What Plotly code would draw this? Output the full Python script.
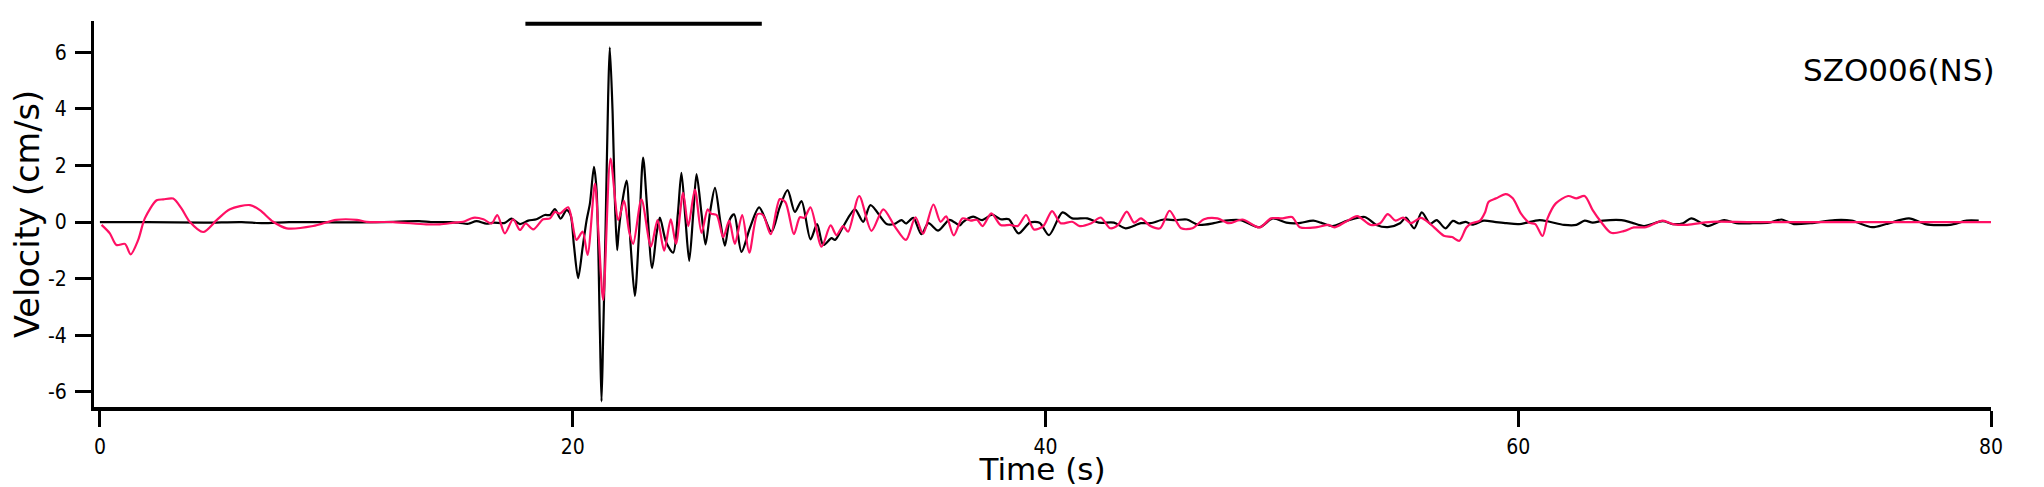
import plotly.graph_objects as go

# ---- data ----
black_t = [0.0, 2.0, 4.4, 6.0, 6.9, 8.0, 10.0, 12.0, 13.5, 14.0, 14.38, 14.81, 15.23, 15.58, 15.93, 16.36, 16.64,
           17.13, 17.41, 17.77, 18.12, 18.47, 18.82, 19.04, 19.25, 19.49, 19.74, 19.91, 20.05, 20.23, 20.42,
           20.59, 20.73, 20.9, 21.01, 21.15, 21.22, 21.29, 21.39, 21.5, 21.57, 21.69, 21.78, 21.88, 21.95,
           22.11, 22.28, 22.45, 22.63, 22.8, 22.98, 23.15, 23.36, 23.55, 23.69, 23.95, 24.25, 24.45, 24.6,
           24.77, 24.93, 25.1, 25.24, 25.45, 25.62, 25.82, 26.02, 26.25, 26.44, 26.65, 26.83, 27.14, 27.5,
           27.89, 28.41, 28.75, 29.09, 29.4, 29.68, 30.06, 30.34, 30.6, 30.95, 31.1, 31.44, 31.94, 32.29,
           32.6, 33.28, 33.6, 33.91, 34.1, 34.41, 34.75, 35.05, 35.46, 35.94, 36.38, 36.51, 36.94, 37.32,
           37.75, 38.1, 38.45, 38.86, 39.34, 39.75, 40.15, 40.72, 41.13, 41.77, 42.26, 42.9, 43.39, 44.04,
           44.44, 45.01, 45.5, 45.98, 46.47, 47.12, 47.6, 48.25, 49.06, 49.62, 50.19, 50.68, 51.33, 51.65,
           52.14, 52.78, 53.51, 54.0, 54.48, 55.0, 55.25, 55.6, 55.92, 56.28, 56.55, 56.92, 57.24, 57.5,
           57.78, 58.05, 58.54, 58.99, 59.5, 60.03, 60.9, 61.33, 61.94, 62.46, 62.81, 63.15, 63.59, 64.37,
           64.8, 65.32, 66.11, 66.54, 66.97, 67.32, 67.76, 68.02, 68.71, 69.23, 69.93, 70.62, 71.14, 71.66,
           72.36, 73.4, 74.1, 74.97, 75.57, 76.53, 77.22, 78.27, 78.96, 79.48]
black_v = [0.0, 0.0, -0.02, 0.0, -0.04, 0.0, -0.01, 0.0, 0.03, 0.0, 0.0, 0.0, -0.03, -0.06, 0.03, -0.06, -0.02,
           -0.03, 0.12, -0.07, 0.05, 0.1, 0.25, 0.25, 0.46, 0.12, 0.42, 0.25, -0.8, -1.98, -0.9,
           0.07, 0.66, 1.95, 1.13, -3.8, -6.33, -4.0, -0.28, 4.4, 6.17, 3.84, 0.9, -0.99, -0.3,
           0.77, 1.46, -0.8, -2.61, -0.5, 2.28, 0.5, -1.63, -0.4, 0.16, -0.7, -1.08, 0.3, 1.74,
           0.1, -1.37, 0.3, 1.69, 0.3, -0.79, 0.4, 1.21, 0.0, -0.83, 0.1, 0.27, -1.05, -0.2,
           0.52, -0.34, 0.5, 1.13, 0.36, 0.74, -0.61, -0.07, -0.81, -0.57, -0.63, -0.16, 0.45, 0.01,
           0.6, -0.07, -0.07, 0.07, -0.05, 0.15, -0.43, -0.04, -0.3, 0.08, -0.12, 0.0, 0.19, 0.07,
           0.26, 0.1, 0.1, -0.4, -0.02, -0.02, -0.46, 0.34, 0.13, 0.13, -0.02, -0.02, -0.22, -0.04,
           -0.04, 0.09, 0.07, 0.09, -0.1, -0.04, 0.05, 0.07, -0.18, 0.13, -0.02, -0.04, 0.05, -0.02,
           -0.14, 0.05, 0.18, -0.1, -0.18, -0.04, 0.16, -0.22, 0.34, -0.06, 0.07, -0.22, 0.04, -0.05,
           0.01, -0.09, 0.05, 0.01, -0.04, -0.07, 0.07, 0.01, -0.1, -0.1, 0.05, -0.02, 0.05, 0.07,
           -0.02, -0.14, 0.03, -0.07, -0.04, 0.13, -0.04, -0.14, 0.07, -0.04, -0.04, -0.02, 0.09, -0.07,
           -0.04, 0.07, 0.05, -0.18, -0.07, 0.13, -0.07, -0.1, 0.05, 0.05]

pink_t = [0.07, 0.42, 0.7, 1.06, 1.3, 1.62, 1.9, 2.4, 2.68, 3.1, 3.45, 3.8, 4.37, 4.94, 5.5, 6.35, 6.77, 7.33,
          7.9, 9.02, 10.0, 10.86, 11.28, 12.4, 13.8, 14.38, 15.0, 15.37, 15.79, 16.22, 16.57, 16.81, 17.13,
          17.48, 17.77, 18.01, 18.33, 18.75, 19.04, 19.25, 19.46, 19.81, 20.16, 20.42, 20.63, 20.94, 21.1,
          21.29, 21.6, 21.93, 22.17, 22.39, 22.56, 22.91, 23.31, 23.59, 23.87, 24.15, 24.37, 24.67, 24.89,
          25.17, 25.45, 25.71, 25.85, 26.09, 26.37, 26.62, 26.86, 27.17, 27.47, 27.82, 28.05, 28.38, 28.76,
          29.0, 29.36, 29.61, 29.8, 30.06, 30.53, 30.91, 31.16, 31.44, 31.65, 32.12, 32.64, 33.14, 33.63,
          34.1, 34.5, 34.82, 35.26, 35.56, 35.8, 36.12, 36.48, 36.84, 37.1, 37.34, 37.71, 38.1, 38.5,
          38.83, 39.18, 39.51, 39.91, 40.28, 40.64, 41.13, 41.45, 41.94, 42.34, 42.74, 43.07, 43.44, 43.75,
          44.04, 44.44, 44.85, 45.25, 45.74, 46.22, 46.71, 47.28, 47.76, 48.33, 49.06, 49.54, 50.03, 50.43,
          50.76, 51.49, 51.97, 52.22, 52.7, 53.19, 53.75, 54.16, 54.48, 54.81, 55.13, 55.45, 55.88, 56.3,
          56.85, 57.2, 57.51, 57.8, 58.0, 58.38, 58.6, 58.75, 59.07, 59.47, 59.77, 60.11, 60.46, 60.72,
          61.03, 61.24, 61.59, 62.11, 62.46, 62.81, 63.15, 63.5, 63.93, 64.46, 64.89, 65.41, 66.11, 66.54,
          67.15, 67.84, 68.19, 70.0, 75.0, 80.0]
pink_v = [-0.1, -0.4, -0.81, -0.77, -1.14, -0.63, 0.13, 0.77, 0.8, 0.83, 0.48, 0.01, -0.35, 0.07, 0.45, 0.6, 0.42, 0.01,
          -0.22, -0.14, 0.08, 0.08, 0.01, 0.0, -0.08, -0.08, -0.02, 0.01, 0.15, 0.1, -0.05, 0.25, -0.4,
          0.1, -0.28, -0.05, -0.26, 0.1, 0.13, 0.36, 0.3, 0.52, -0.63, -0.34, -1.16, 1.36, -0.5,
          -2.75, 2.24, 0.07, 0.75, -0.34, -0.77, 0.8, -0.87, 0.07, -1.01, 0.1, -0.77, 1.03, -0.14,
          1.15, -0.38, 0.45, 0.3, 0.25, -0.54, 0.05, -0.77, 0.25, -1.08, 0.28, 0.25, -0.43, 0.81,
          0.7, -0.43, 0.17, 0.15, 0.52, -0.87, -0.12, -0.46, -0.14, -0.34, 0.92, -0.31, 0.45, -0.16,
          -0.63, 0.17, -0.41, 0.62, 0.01, 0.2, -0.47, 0.13, 0.05, 0.08, -0.14, 0.31, -0.1, -0.1,
          -0.14, 0.25, -0.26, -0.14, 0.39, -0.04, 0.01, -0.14, -0.04, 0.16, -0.22, -0.1, 0.37, -0.02,
          0.13, -0.14, -0.22, 0.4, -0.22, -0.22, 0.1, 0.13, -0.04, 0.09, -0.19, 0.13, 0.13, 0.18,
          -0.18, -0.18, -0.1, -0.19, 0.01, 0.21, -0.1, -0.04, 0.28, 0.05, 0.16, -0.04, 0.15, -0.08,
          -0.48, -0.53, -0.66, -0.2, -0.05, 0.05, 0.35, 0.72, 0.84, 0.99, 0.84, 0.31, -0.02, -0.07,
          -0.49, 0.13, 0.66, 0.92, 0.84, 0.92, 0.42, 0.01, -0.38, -0.32, -0.19, -0.18, 0.05, -0.07,
          -0.1, -0.02, 0.01, 0.0, 0.0, 0.0]

bar_t = [18.0, 28.0]
bar_v = [7.0, 7.0]

x_tickvals = [0, 20, 40, 60, 80]
x_ticktext = ["0", "20", "40", "60", "80"]
y_tickvals = [-6, -4, -2, 0, 2, 4, 6]
y_ticktext = ["-6", "-4", "-2", "0", "2", "4", "6"]

station_label = "SZO006(NS)"
x_title = "Time (s)"
y_title = "Velocity (cm/s)"

PINK = "rgb(255,16,100)"
TICKFONT = dict(family="Liberation Sans Narrow, DejaVu Sans Condensed, Liberation Sans", size=21, color="black")
TITLEFONT = dict(family="DejaVu Sans, Liberation Sans", size=31, color="black")
YTITLEFONT = dict(family="DejaVu Sans, Liberation Sans", size=33.5, color="black")

fig = go.Figure()
fig.add_trace(go.Scatter(x=black_t, y=black_v, mode="lines",
                         line=dict(color="black", width=2.2, shape="spline", smoothing=0.8),
                         showlegend=False, hoverinfo="skip"))
fig.add_trace(go.Scatter(x=pink_t, y=pink_v, mode="lines",
                         line=dict(color=PINK, width=2.2, shape="spline", smoothing=0.8),
                         showlegend=False, hoverinfo="skip"))
fig.add_trace(go.Scatter(x=bar_t, y=bar_v, mode="lines",
                         line=dict(color="black", width=4),
                         showlegend=False, hoverinfo="skip"))

# The page body has an 8px default margin, so the figure is 8px smaller than the window
fig.update_layout(
    width=2036, height=479,
    margin=dict(l=86, r=53, t=13, b=80, autoexpand=False),
    paper_bgcolor="white", plot_bgcolor="white",
    showlegend=False,
    xaxis=dict(range=[-0.25, 80], showgrid=False, zeroline=False,
               showline=True, linecolor="black", linewidth=4,
               ticks="outside", ticklen=16, tickwidth=3, tickcolor="black",
               tickvals=x_tickvals, ticktext=x_ticktext, tickfont=TICKFONT,
               ticklabelstandoff=2,
               title=dict(text=x_title, font=TITLEFONT, standoff=12)),
    yaxis=dict(range=[-6.53, 7.1], showgrid=False, zeroline=False,
               showline=True, linecolor="black", linewidth=3,
               ticks="outside", ticklen=16, tickwidth=3, tickcolor="black",
               tickvals=y_tickvals, ticktext=y_ticktext, tickfont=TICKFONT,
               ticklabelstandoff=4,
               title=dict(text=y_title, font=YTITLEFONT, standoff=5)),
    annotations=[dict(text=station_label, xref="paper", yref="paper", x=1.003, y=0.873,
                      xanchor="right", yanchor="middle", showarrow=False, font=TITLEFONT)],
)

fig.write_html("out.html")
